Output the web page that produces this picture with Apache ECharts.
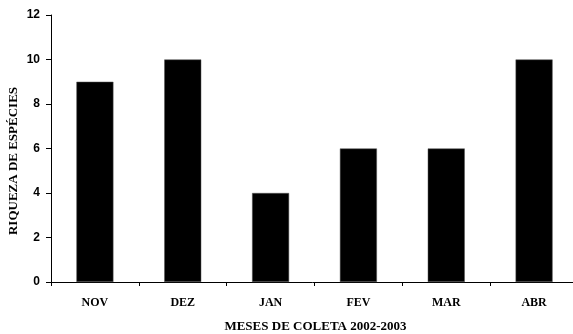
<!DOCTYPE html>
<html>
<head>
<meta charset="utf-8">
<script src="https://cdn.jsdelivr.net/npm/echarts@6/dist/echarts.min.js"></script>
<style>
html,body{margin:0;padding:0;background:#fff;}
#c{width:573px;height:334px;}
</style>
</head>
<body>
<div id="c"></div>
<script>
var categories = ['NOV', 'DEZ', 'JAN', 'FEV', 'MAR', 'ABR'];
var riqueza = [9, 10, 4, 6, 6, 10];
var yTitle = 'RIQUEZA DE ESPÉCIES';
var xTitle = 'MESES DE COLETA 2002-2003';

var chart = echarts.init(document.getElementById('c'));
chart.setOption({
  animation: false,
  backgroundColor: '#fff',
  grid: {left: 51, top: 15, width: 527, height: 267, containLabel: false, outerBoundsMode: 'none'},
  graphic: [{
    type: 'text',
    x: 14, y: 161,
    rotation: Math.PI / 2,
    style: {
      text: yTitle,
      fill: '#000',
      font: 'bold 13px "Liberation Serif"',
      align: 'center',
      verticalAlign: 'middle'
    }
  }],
  xAxis: {
    type: 'category',
    data: categories,
    boundaryGap: true,
    axisLine: {lineStyle: {color: '#000', width: 1}},
    axisTick: {show: true, alignWithLabel: false, length: 4, inside: false, lineStyle: {color: '#000'}},
    axisLabel: {color: '#000', fontFamily: 'Liberation Serif', fontWeight: 'bold', fontSize: 12, margin: 15},
    name: xTitle,
    nameLocation: 'middle',
    nameGap: 38,
    nameTextStyle: {color: '#000', fontFamily: 'Liberation Serif', fontWeight: 'bold', fontSize: 13, padding: [0, 0, 0, 2]}
  },
  yAxis: {
    type: 'value',
    min: 0, max: 12, interval: 2,
    splitLine: {show: false},
    axisLine: {show: true, lineStyle: {color: '#000', width: 1}},
    axisTick: {show: true, length: 5, lineStyle: {color: '#000'}},
    axisLabel: {color: '#000', fontFamily: 'Liberation Sans', fontWeight: 'bold', fontSize: 12, margin: 11}
  },
  series: [{
    type: 'bar',
    data: riqueza,
    barWidth: 37,
    itemStyle: {color: '#000', borderColor: '#555', borderWidth: 0.5}
  }]
});
</script>
</body>
</html>
